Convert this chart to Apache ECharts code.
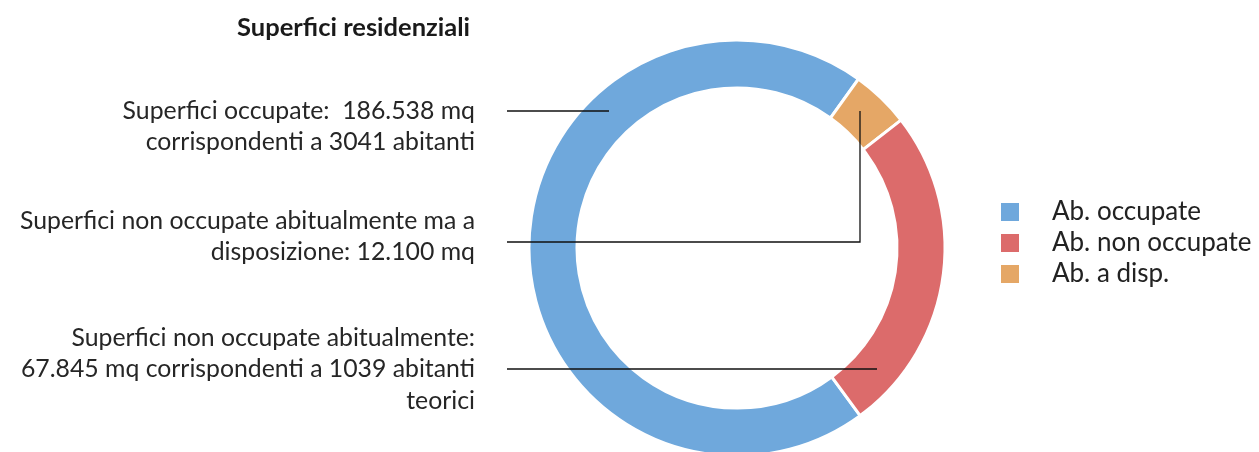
<!DOCTYPE html>
<html>
<head>
<meta charset="utf-8">
<script src="https://cdn.jsdelivr.net/npm/echarts@6/dist/echarts.min.js"></script>
<style>
  html, body { margin: 0; padding: 0; background: #fff; }
  #chart { width: 1259px; height: 452px; }
</style>
</head>
<body>
<div id="chart"></div>
<script>
const names = ['Ab. occupate', 'Ab. a disp.', 'Ab. non occupate']
const values = [186538, 12100, 67845]
const colors = ['#6fa8dc', '#e5a766', '#dc6b6b']
const legendOrder = ['Ab. occupate', 'Ab. non occupate', 'Ab. a disp.']

const notes = [
  'Superfici occupate:  186.538 mq\ncorrispondenti a 3041 abitanti',
  'Superfici non occupate abitualmente ma a\ndisposizione: 12.100 mq',
  'Superfici non occupate abitualmente:\n67.845 mq corrispondenti a 1039 abitanti\nteorici',
]

const myChart = echarts.init(document.getElementById('chart'))

const font = 'Lato, "Open Sans", sans-serif'
const noteStyle = (text, y) => ({
  type: 'text',
  x: 475,
  y: y,
  style: {
    text: text,
    textAlign: 'right',
    textVerticalAlign: 'top',
    font: '24.8px ' + font,
    lineHeight: 31.5,
    fill: '#262626',
  },
})
const line = (points) => ({
  type: 'polyline',
  shape: { points: points },
  style: { stroke: '#111', lineWidth: 1.3, fill: null },
  z: 10,
})

const option = {
  animation: false,
  title: {
    text: 'Superfici residenziali',
    right: 784,
    top: 10,
    textStyle: { fontFamily: font, fontWeight: 'bold', fontSize: 25.5, color: '#1a1a1a' },
  },
  legend: {
    data: legendOrder,
    orient: 'vertical',
    left: 994,
    top: 194,
    itemWidth: 20,
    itemHeight: 20,
    itemGap: 5,
    icon: 'rect',
    textStyle: { fontFamily: font, fontSize: 26, color: '#222', padding: [0, 0, 0, 27] },
  },
  graphic: [
    noteStyle(notes[0], 95),
    noteStyle(notes[1], 205),
    noteStyle(notes[2], 322),
    line([[507, 111], [609, 111]]),
    line([[507, 242], [860, 242], [860, 111]]),
    line([[507, 369], [877, 369]]),
  ],
  series: [
    {
      type: 'pie',
      center: [737, 248],
      radius: [160, 208],
      startAngle: 306.3,
      clockwise: true,
      label: { show: false },
      labelLine: { show: false },
      itemStyle: { borderColor: '#fff', borderWidth: 3 },
      data: names.map((n, i) => ({ name: n, value: values[i], itemStyle: { color: colors[i] } })),
    },
  ],
}

myChart.setOption(option)
</script>
</body>
</html>
